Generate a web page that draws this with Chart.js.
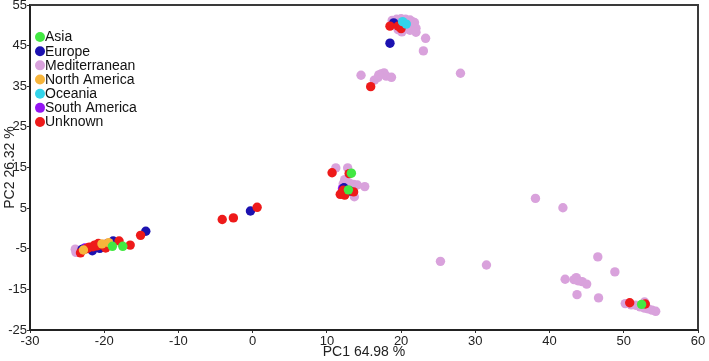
<!DOCTYPE html>
<html>
<head>
<meta charset="utf-8">
<script src="https://cdn.jsdelivr.net/npm/chart.js@4"></script>
<style>
html,body{margin:0;padding:0;background:#fff;}
#wrap{width:709px;height:361px;}
</style>
</head>
<body>
<div id="wrap"><canvas id="c" width="709" height="361"></canvas></div>
<script>
const groups = ["Asia","Europe","Mediterranean","North America","Oceania","South America","Unknown"];
const colors = ["#42e842","#1c12b0","#d9a2dc","#f7b53b","#33d4ea","#9414f2","#ee1a1a"];
const drawOrder = [0,4,6,2,1,5,3];

const asia = [[-18.9,-4.4],[-17.5,-4.4],[13.3,13.6],[12.9,9.5],[52.4,-18.7]];
const europe = [[-23.0,-5.2],[-21.6,-5.5],[-20.6,-4.9],[-18.8,-3.1],[-14.4,-0.7],[-0.3,4.3],[13.1,9.2],[12.3,10.0],[19.0,50.6],[18.5,45.6]];
const mediterranean = [
 [-23.8,-5.9],[-23.6,-5.4],[-23.9,-5.1],
 [11.2,14.9],[12.8,14.9],[12.6,11.5],[12.2,11.0],[13.0,11.2],[13.6,10.8],[14.1,10.7],[15.1,10.3],[13.7,7.8],[12.4,12.0],
 [18.8,51.2],[19.4,51.5],[20.0,51.6],[20.6,51.5],[21.2,51.3],[21.8,50.7],[19.2,50.4],[19.8,50.8],[21.0,50.2],[21.6,49.8],[22.0,49.3],[20.4,49.0],[21.2,48.8],[19.6,48.9],[20.1,48.4],[22.0,48.3],[23.3,46.8],[23.0,43.7],[20.8,49.6],[21.5,50.9],[20.3,51.0],
 [14.6,37.7],[16.4,36.5],[16.9,37.2],[17.3,38.0],[17.7,38.3],[18.0,37.5],[18.7,37.2],[17.0,37.8],[28.0,38.2],
 [25.3,-8.1],[31.5,-9.0],[38.1,7.4],[41.8,5.1],[46.5,-7.0],[48.8,-10.7],
 [42.1,-12.5],[43.3,-12.6],[43.6,-12.1],[43.9,-12.9],[44.4,-13.1],[45.0,-13.7],[43.7,-16.3],[46.6,-17.1],
 [50.2,-18.5],[51.6,-18.9],[52.2,-19.3],[52.8,-19.6],[53.3,-19.8],[53.8,-20.1],[54.3,-20.4],[52.8,-18.1],[51.0,-18.8]
];
const northAmerica = [[-22.8,-5.3],[-19.4,-3.5],[-20.3,-3.8]];
const oceania = [[20.2,50.9],[20.7,50.3]];
const southAmerica = [[-22.6,-4.8],[-19.6,-3.7],[12.1,9.8]];
const unknown = [
 [-23.2,-6.0],[-22.4,-5.0],[-22.0,-4.6],[-21.5,-4.5],[-21.0,-4.3],[-20.5,-4.0],[-19.8,-4.8],[-18.0,-3.1],[-16.5,-4.1],[-15.1,-1.7],[-22.2,-4.8],[-20.8,-3.7],[-21.3,-4.1],
 [-4.1,2.2],[-2.6,2.6],[0.6,5.2],
 [10.7,13.7],[13.0,13.5],[12.2,9.4],[12.0,8.6],[13.6,9.0],[12.4,8.2],[11.8,8.4],
 [18.5,49.8],[19.6,49.8],[20.0,49.2],[15.9,34.9],
 [50.8,-18.3],[52.9,-18.6]
];
const seriesValues = [asia, europe, mediterranean, northAmerica, oceania, southAmerica, unknown];

const xTicks = [-30,-20,-10,0,10,20,30,40,50,60];
const yTicks = [-25,-15,-5,5,15,25,35,45,55];

const datasets = groups.map((g,i)=>({
  label: g,
  data: seriesValues[i].map(p=>({x:p[0],y:p[1]})),
  backgroundColor: colors[i],
  borderWidth: 0,
  pointRadius: 4.7,
  pointHoverRadius: 4.7,
  order: drawOrder[i]
}));

const frameLegend = {
  id:'frameLegend',
  afterDatasetsDraw(chart){
    const ctx = chart.ctx, a = chart.chartArea;
    ctx.save();
    ctx.strokeStyle = '#3a3a3a';
    ctx.lineWidth = 2;
    ctx.beginPath();
    ctx.moveTo(a.left, a.top); ctx.lineTo(a.right, a.top); ctx.lineTo(a.right, a.bottom);
    ctx.stroke();
    ctx.font = '14px "Liberation Sans", Arial, sans-serif';
    ctx.textBaseline = 'middle';
    ctx.textAlign = 'left';
    chart.data.datasets.forEach((d,i)=>{
      const cy = a.top + 32 + i*14.17;
      ctx.fillStyle = d.backgroundColor;
      ctx.beginPath(); ctx.arc(a.left+10, cy, 5, 0, Math.PI*2); ctx.fill();
      ctx.fillStyle = '#111';
      ctx.fillText(d.label, a.left+15, cy+0.5);
    });
    ctx.restore();
  }
};

new Chart(document.getElementById('c'), {
  type: 'scatter',
  data: { datasets },
  options: {
    responsive: false,
    animation: false,
    devicePixelRatio: 1,
    layout: { padding: { left: 0, right: 11, top: 5, bottom: 0 } },
    plugins: { legend: { display: false }, tooltip: { enabled: false } },
    scales: {
      x: {
        type: 'linear', min: -30, max: 60,
        afterBuildTicks(s){ s.ticks = xTicks.map(v=>({value:v})); },
        afterFit(s){ s.height = 31; s.paddingLeft = 0; s.paddingRight = 0; },
        grid: { display: true, drawOnChartArea: false, tickLength: 3, color: '#333', lineWidth: 1 },
        border: { display: true, color: '#222', width: 2 },
        ticks: { color: '#222', padding: 1, font: { family: '"Liberation Sans", Arial, sans-serif', size: 13 }, maxRotation: 0, autoSkip: false },
        title: { display: true, text: 'PC1 64.98 %', color: '#222', padding: { top: 0, bottom: 0 }, font: { family: '"Liberation Sans", Arial, sans-serif', size: 14 } }
      },
      y: {
        type: 'linear', min: -25, max: 55,
        afterBuildTicks(s){ s.ticks = yTicks.map(v=>({value:v})); },
        afterFit(s){ s.width = 30; s.paddingTop = 0; s.paddingBottom = 0; },
        grid: { display: true, drawOnChartArea: false, tickLength: 3, color: '#333', lineWidth: 1 },
        border: { display: true, color: '#222', width: 2 },
        ticks: { color: '#222', padding: 0, font: { family: '"Liberation Sans", Arial, sans-serif', size: 13 }, autoSkip: false },
        title: { display: true, text: 'PC2 26.32 %', color: '#222', padding: { top: 2, bottom: 0 }, font: { family: '"Liberation Sans", Arial, sans-serif', size: 14 } }
      }
    }
  },
  plugins: [frameLegend]
});
</script>
</body>
</html>
